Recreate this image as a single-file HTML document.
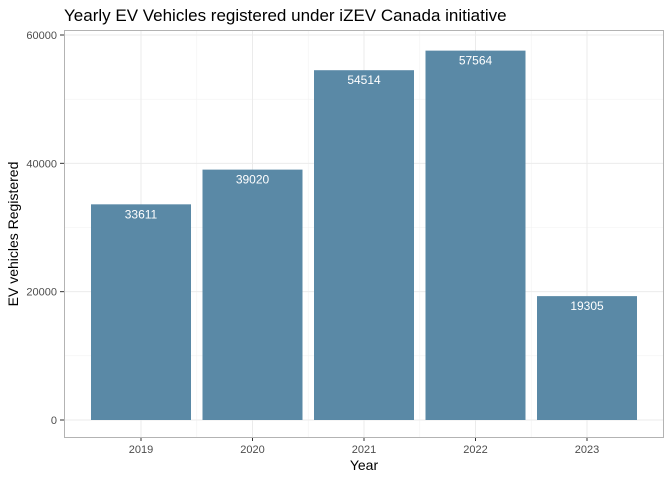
<!DOCTYPE html>
<html><head><meta charset="utf-8"><style>
body{margin:0;background:#fff;font-family:"Liberation Sans",sans-serif}
</style></head><body>
<svg id="chart" width="672" height="480" xmlns="http://www.w3.org/2000/svg" font-family="Liberation Sans, sans-serif">
<rect width="672" height="480" fill="#fff"/>
<text x="64" y="21" font-size="17" fill="#000">Yearly EV Vehicles registered under iZEV Canada initiative</text>
<g id="grid"></g>
<g id="bars"></g>
<g id="axes"></g>
<rect x="64.5" y="30.5" width="599" height="407" fill="none" stroke="#b3b3b3" stroke-width="1"/>
<text x="364" y="470" font-size="14" text-anchor="middle">Year</text>
<text transform="translate(18,234) rotate(-90)" font-size="14" text-anchor="middle">EV vehicles Registered</text>
</svg>
<script>
const categories=["2019","2020","2021","2022","2023"];
const values=[33611,39020,54514,57564,19305];
const yTicks=[0,20000,40000,60000];
const yMinor=[10000,30000,50000];
const NS="http://www.w3.org/2000/svg";
const y=v=>420-v*(385/60000);
const x=i=>141+111.5*i;
const bw=100;
function mk(tag,attrs,parent){const e=document.createElementNS(NS,tag);for(const k in attrs)e.setAttribute(k,attrs[k]);parent.appendChild(e);return e;}
const grid=document.getElementById('grid'),bars=document.getElementById('bars'),axes=document.getElementById('axes');
yMinor.forEach(v=>{const l=mk('line',{x1:65,x2:663,y1:y(v),y2:y(v),stroke:'#f2f2f2','stroke-width':0.6},grid);

});
for(let i=0;i<categories.length-1;i++){const xm=(x(i)+x(i+1))/2;const l=mk('line',{x1:xm,x2:xm,y1:31,y2:437,stroke:'#f2f2f2','stroke-width':0.6},grid);

}
yTicks.forEach(v=>{const l=mk('line',{x1:65,x2:663,y1:y(v),y2:y(v),stroke:'#ebebeb','stroke-width':1},grid);


mk('line',{x1:60,x2:64,y1:y(v),y2:y(v),stroke:'#333'},axes);
const t=mk('text',{x:57,y:y(v)+4,'font-size':11,'text-anchor':'end',fill:'#4d4d4d'},axes);t.textContent=v;

});
categories.forEach((c,i)=>{const l=mk('line',{x1:x(i),x2:x(i),y1:31,y2:437,stroke:'#ebebeb','stroke-width':1},grid);


const r=mk('rect',{x:x(i)-bw/2,y:y(values[i]),width:bw,height:y(0)-y(values[i]),fill:'#5a89a6'},bars);


const lb=mk('text',{x:x(i),y:y(values[i])+14,'font-size':12,'text-anchor':'middle',fill:'#fff'},bars);lb.textContent=values[i];


mk('line',{x1:x(i),x2:x(i),y1:437,y2:441,stroke:'#333'},axes);
const t=mk('text',{x:x(i),y:453,'font-size':11,'text-anchor':'middle',fill:'#4d4d4d'},axes);t.textContent=c;

});
</script>
</body></html>
